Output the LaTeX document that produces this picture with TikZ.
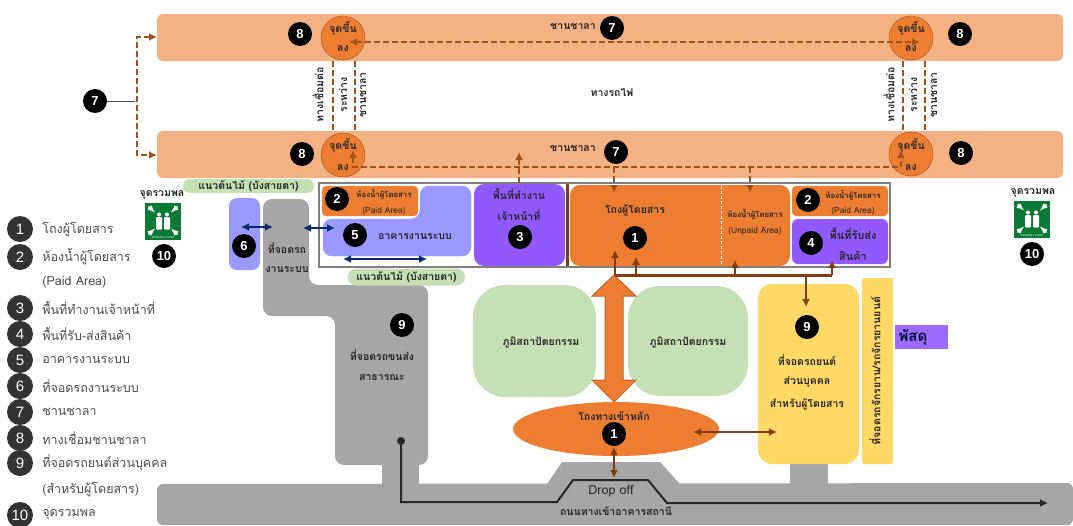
\documentclass[tikz,border=0pt]{standalone}
\usepackage{fontspec}
\usepackage[]{xcolor}
\usetikzlibrary{positioning,shapes.geometric,arrows.meta}
\setmainfont[Script=Thai]{Loma}
\newfontfamily\numfont{Liberation Sans}
\definecolor{platform}{HTML}{F4B183}
\definecolor{orangezone}{HTML}{ED7D31}
\definecolor{brownline}{HTML}{843C0C}
\definecolor{dashline}{HTML}{A0521A}
\definecolor{purplezone}{HTML}{9159FF}
\definecolor{bluezone}{HTML}{9999FF}
\definecolor{greyzone}{HTML}{A6A6A6}
\definecolor{greenzone}{HTML}{C5E0B4}
\definecolor{yellowzone}{HTML}{FFD966}
\definecolor{navyline}{HTML}{0B2A6B}
\definecolor{signgreen}{HTML}{0A7A36}
\definecolor{labelink}{HTML}{262626}
\tikzset{
    assemblysign/.pic={
        \fill[signgreen] (-18,-18.5) rectangle (18,18.5);
        \foreach \sx/\sy in {-1/-1,1/-1,-1/1,1/1}
            \draw[white, line width=1.6pt, -latex] (\sx*14.5,\sy*14-1) -- (\sx*8,\sy*8-1);
        \foreach \sx in {-4,4} {
            \fill[white] (\sx,-7) circle (2);
            \fill[white, rounded corners=1] (\sx-3,-4.5) rectangle (\sx+3,8);
        }
        \node[text=white, font=\numfont\fontsize{2.6}{3}\selectfont, inner sep=0pt] (signtext) at (0,16) {ASSEMBLY POINT};
    }
}
\begin{document}
\begin{tikzpicture}[
            x=1pt, y=-1pt,
            >={Latex[length=8pt,width=8pt]},
            zone/.style={rectangle, rounded corners=#1, inner sep=0pt, text=labelink},
            zone/.default=8pt,
            badge/.style={circle, fill=black, text=white, inner sep=0pt, minimum size=24pt, font=\numfont\bfseries\fontsize{13}{13}\selectfont},
            keybadge/.style={circle, fill=black!80, text=white, inner sep=0pt, minimum size=26pt, font=\numfont\fontsize{15}{15}\selectfont},
            stopcircle/.style={circle, draw=brownline!70!orangezone, fill=orangezone, inner sep=0pt, minimum size=44pt},
            label/.style={text=labelink, inner sep=0pt, align=center, font=\bfseries\fontsize{10.5}{12}\selectfont},
            smalllabel/.style={text=labelink, inner sep=0pt, font=\bfseries\fontsize{7.8}{9}\selectfont},
            paidlabel/.style={text=labelink, inner sep=0pt, font=\fontsize{8.5}{9}\selectfont},
            legendtext/.style={text=black!70, inner sep=0pt, font=\fontsize{12.5}{14}\selectfont},
            dasharrow/.style={dashline, line width=2.5pt, dash pattern=on 6pt off 3pt, ->},
            brownarrow/.style={brownline, line width=2.5pt, ->},
            navyarrow/.style={navyline, line width=2pt, <->}
        ]
            \useasboundingbox (0,0) rectangle (1073,525);

            % ground
            \fill[greyzone, rounded corners=6pt] (157,484) -- (157,525) -- (1073,525) -- (1073,483) -- cycle;
            \fill[greyzone] (547,484) -- (562,462) -- (660,462) -- (680,484) -- cycle;
            \fill[greyzone] (790,460) rectangle (828,484);
            \fill[greyzone] (382,460) rectangle (419,484);
            \fill[greyzone, rounded corners=9pt] (263,199) -- (309,199) -- (309,285) -- (428,285) -- (428,465) -- (335,465) -- (335,316) -- (263,316) -- cycle;

            % platforms
            \node[zone=6pt, fill=platform, minimum width=906pt, minimum height=47pt] (platformtop) at (610,37.5) {};
            \node[zone=6pt, fill=platform, minimum width=906pt, minimum height=47pt] (platformlow) at (610,154.5) {};
            \node[stopcircle] (stopTL) at (343,38) {};
            \node[stopcircle] (stopTR) at (911,38) {};
            \node[stopcircle] (stopBL) at (343,155) {};
            \node[stopcircle] (stopBR) at (911,154) {};

            \foreach \nm/\px in {TL/343,TR/911} {
                \node[label] (stopupper\nm) at (\px,28) {จุดขึ้น};
                \node[label] (stoplower\nm) at (\px,49) {ลง};
            }
            \foreach \nm/\px in {BL/343,BR/911} {
                \node[label] (stopupper\nm) at (\px,145) {จุดขึ้น};
                \node[label] (stoplower\nm) at (\px,168) {ลง};
            }
            \node[label] (platformtoptext) at (573,26) {ชานชาลา};
            \node[label] (platformlowtext) at (573,148) {ชานชาลา};
            \node[label] (railtext) at (612,92) {ทางรถไฟ};

            % concourse frame
            \node[rectangle, draw=black!50, line width=2.5pt, inner sep=0pt, minimum width=571pt, minimum height=84pt] (frame) at (604.5,225) {};
            \node[zone=4pt, fill=orangezone, minimum width=96pt, minimum height=30pt] (toiletL) at (370,201) {};
            \draw[bluezone, fill=bluezone, rounded corners=9pt] (323,219) -- (420,219) -- (420,186) -- (471,186) -- (471,256) -- (323,256) -- cycle;
            \node[zone=10pt, fill=purplezone, minimum width=91pt, minimum height=82pt] (staff) at (519.5,225) {};
            \node[zone=10pt, fill=orangezone, minimum width=220pt, minimum height=81pt] (hall) at (680,225.5) {};
            \node[zone=4pt, fill=orangezone, minimum width=96pt, minimum height=30pt] (toiletR) at (840,201) {};
            \node[zone=6pt, fill=purplezone, minimum width=96pt, minimum height=45pt] (goods) at (840,241.5) {};
            \coordinate (dividerA) at (567,184);
            \coordinate (dividerB) at (567,266);
            \draw[brownline, line width=3pt] (dividerA) -- (dividerB);
            \coordinate (unpaidA) at (721,186);
            \coordinate (unpaidB) at (721,265);
            \draw[white, densely dashed, line width=1pt] (unpaidA) -- (unpaidB);

            \node[zone=8pt, fill=bluezone, minimum width=31pt, minimum height=72pt] (sidepark) at (244.5,234) {};

            % green strips and blobs
            \node[zone=7pt, fill=greenzone, minimum width=131pt, minimum height=14pt, font=\bfseries\fontsize{10.5}{12}\selectfont] (treesA) at (248.5,186) {แนวต้นไม้ (บังสายตา)};
            \node[zone=8pt, fill=greenzone, minimum width=117pt, minimum height=17pt, font=\bfseries\fontsize{10.5}{12}\selectfont] (treesB) at (406.5,277) {แนวต้นไม้ (บังสายตา)};
            \node[zone=32pt, fill=greenzone, minimum width=123pt, minimum height=112pt] (gardenL) at (534.5,341) {};
            \node[zone=32pt, fill=greenzone, minimum width=120pt, minimum height=110pt] (gardenR) at (688,341) {};
            \node[label] (gardenLtext) at (541,342) {ภูมิสถาปัตยกรรม};
            \node[label] (gardenRtext) at (688,342) {ภูมิสถาปัตยกรรม};

            % entrance and parking
            \node[ellipse, fill=orangezone, inner sep=0pt, minimum width=206pt, minimum height=54pt] (entrance) at (616,429) {};
            \draw[orangezone!80!black, line width=1pt, fill=orangezone] (614,275) -- (636,296) -- (623,296) -- (623,380) -- (636,380) -- (614,402) -- (592,380) -- (605,380) -- (605,296) -- (592,296) -- cycle;
            \node[zone=14pt, fill=yellowzone, minimum width=101pt, minimum height=180pt] (carpark) at (808.5,374) {};
            \node[zone=2pt, fill=yellowzone, minimum width=31pt, minimum height=186pt] (bikepark) at (877.5,371) {};
            \node[rectangle, fill=purplezone!90!white, text=navyline!50!black, inner sep=0pt, minimum width=53pt, minimum height=24pt, font=\bfseries\fontsize{15}{15}\selectfont, text width=46pt, align=left] (parcel) at (921.5,337) {พัสดุ};

            % labels
            \node[label, rotate=90] (linkAa) at (318,95) {ทางเชื่อมต่อ};
            \node[label, rotate=90] (linkAb) at (343,95) {ระหว่าง};
            \node[label, rotate=90] (linkAc) at (363,95) {ชานชาลา};
            \node[label, rotate=90] (linkBa) at (889,95) {ทางเชื่อมต่อ};
            \node[label, rotate=90] (linkBb) at (913,95) {ระหว่าง};
            \node[label, rotate=90] (linkBc) at (934,95) {ชานชาลา};
            \node[smalllabel] (toiletLa) at (384,194) {ห้องน้ำผู้โดยสาร};
            \node[paidlabel] (toiletLb) at (384,211) {(Paid Area)};
            \node[smalllabel] (toiletRa) at (853,195) {ห้องน้ำผู้โดยสาร};
            \node[paidlabel] (toiletRb) at (853,211) {(Paid Area)};
            \node[smalllabel] (unpaida) at (755,214) {ห้องน้ำผู้โดยสาร};
            \node[paidlabel] (unpaidb) at (755,231) {(Unpaid Area)};
            \node[label] (systemtext) at (415,237) {อาคารงานระบบ};
            \node[label] (stafftexta) at (519,194) {พื้นที่ทำงาน};
            \node[label] (stafftextb) at (519,215) {เจ้าหน้าที่};
            \node[label] (halltext) at (635,210) {โถงผู้โดยสาร};
            \node[label, font=\bfseries\fontsize{11}{13}\selectfont] (goodstexta) at (853,234) {พื้นที่รับส่ง};
            \node[label, font=\bfseries\fontsize{11}{13}\selectfont] (goodstextb) at (853,256) {สินค้า};
            \node[label] (sideparka) at (287,248) {ที่จอดรถ};
            \node[label] (sideparkb) at (287,270) {งานระบบ};
            \node[label] (bustexta) at (382,355) {ที่จอดรถขนส่ง};
            \node[label] (bustextb) at (382,377) {สาธารณะ};
            \node[label] (entrancetext) at (614,416) {โถงทางเข้าหลัก};
            \node[label] (cartexta) at (807,360) {ที่จอดรถยนต์};
            \node[label] (cartextb) at (807,382) {ส่วนบุคคล};
            \node[label] (cartextc) at (807,404) {สำหรับผู้โดยสาร};
            \node[label, rotate=90] (biketext) at (875,371) {ที่จอดรถจักรยาน/รถจักรยานยนต์};
            \node[label, font=\fontsize{12.5}{13}\selectfont] (dropoff) at (611,491) {Drop off};
            \node[label] (roadtext) at (616,511) {ถนนทางเข้าอาคารสถานี};

            % dashed walkways
            \coordinate (walkTL) at (349,42);
            \coordinate (walkTR) at (920,42);
            \draw[dasharrow, <->] (walkTL) -- (walkTR);
            \coordinate (walkBL) at (353,150);
            \coordinate (walkBLb) at (353,167);
            \coordinate (walkBR) at (901,150);
            \coordinate (walkBRb) at (901,167);
            \draw[dasharrow, <->] (walkBL) -- (walkBLb) -- (walkBRb) -- (walkBR);
            \coordinate (brkT) at (157,37);
            \coordinate (brkTb) at (137,37);
            \coordinate (brkB) at (157,155);
            \coordinate (brkBb) at (137,155);
            \draw[dasharrow, <->] (brkT) -- (brkTb) -- (brkBb) -- (brkB);
            \foreach \px in {333,355,903,925} {
                \coordinate (linkup\px) at (\px,61);
                \coordinate (linkdown\px) at (\px,131);
                \draw[dashline, line width=2.5pt, dash pattern=on 6pt off 3pt] (linkup\px) -- (linkdown\px);
            }
            \coordinate (staffdoor) at (519,183);
            \coordinate (stafftip) at (519,152);
            \draw[dasharrow] (staffdoor) -- (stafftip);
            \foreach \px in {614,750} {
                \coordinate (halldown\px) at (\px,167);
                \coordinate (halltip\px) at (\px,193);
                \draw[dasharrow] (halldown\px) -- (halltip\px);
            }

            % solid connectors
            \coordinate (busA) at (615,275);
            \coordinate (busB) at (832,275);
            \draw[brownline, line width=3pt] (busA) -- (busB);
            \foreach \px/\py in {615/250,636/257,735/260,832/260} {
                \coordinate (busfoot\px) at (\px,275);
                \coordinate (bustip\px) at (\px,\py);
                \draw[brownarrow] (busfoot\px) -- (bustip\px);
            }
            \coordinate (busdrop) at (806,275);
            \coordinate (busdroptip) at (806,307);
            \draw[brownarrow] (busdrop) -- (busdroptip);
            \coordinate (entrancedown) at (614,447);
            \coordinate (entrancedrop) at (614,478);
            \draw[brownarrow, <->] (entrancedown) -- (entrancedrop);
            \coordinate (entranceright) at (693,432);
            \coordinate (carleft) at (777,432);
            \draw[brownarrow, <->] (entranceright) -- (carleft);
            \coordinate (navyAa) at (343,259);
            \coordinate (navyAb) at (427,259);
            \draw[navyarrow] (navyAa) -- (navyAb);
            \coordinate (navyBa) at (303,228);
            \coordinate (navyBb) at (335,228);
            \draw[navyarrow] (navyBa) -- (navyBb);
            \coordinate (navyCa) at (241,227);
            \coordinate (navyCb) at (273,227);
            \draw[navyarrow] (navyCa) -- (navyCb);
            \node[circle, fill=black!85, inner sep=0pt, minimum size=8pt] (routedot) at (401,441) {};
            \coordinate (routeA) at (401,502);
            \coordinate (routeB) at (557,502);
            \coordinate (routeC) at (573,480);
            \coordinate (routeD) at (648,480);
            \coordinate (routeE) at (667,503);
            \coordinate (routeF) at (1048,503);
            \draw[black!85, line width=2pt, ->] (routedot) -- (routeA) -- (routeB) -- (routeC) -- (routeD) -- (routeE) -- (routeF);
            \node[circle, inner sep=0pt, minimum size=24pt] (sevenhub) at (95,101) {};
            \coordinate (sevenline) at (135,101);
            \draw[black!70, line width=0.7pt] (sevenhub) -- (sevenline);

            % badges
            \foreach \nm/\px/\py/\lab in {8a/300/34/8,8b/302/154/8,8c/960/34/8,8d/961/153/8,7a/612/28/7,7b/616/152/7,7c/95/101/7,
                    2a/337/199/2,5a/355/235/5,3a/520/237/3,1a/635/238/1,2b/808/200/2,4a/811/243/4,6a/244/246/6,
                    9a/402/325/9,1b/614/434/1,9b/807/327/9,10a/164/256/10,10b/1032/254/10}
                \node[badge] (badge\nm) at (\px,\py) {\lab};

            % assembly points
            \node[label] (gatherL) at (162,195) {จุดรวมพล};
            \node[label] (gatherR) at (1033,193) {จุดรวมพล};
            \pic at (163,221.5) {assemblysign};
            \pic at (1032,219.5) {assemblysign};

            % legend
            \foreach \nm/\py/\lab in {1/229/โถงผู้โดยสาร,2/257/ห้องน้ำผู้โดยสาร,3/308/พื้นที่ทำงานเจ้าหน้าที่,4/334/พื้นที่รับ-ส่งสินค้า,5/360/อาคารงานระบบ,6/386/ที่จอดรถงานระบบ,7/412/ชานชาลา,8/438/ทางเชื่อมชานชาลา,9/463/ที่จอดรถยนต์ส่วนบุคคล,10/515/จุดรวมพล} {
                \node[keybadge] (key\nm) at (20,\py) {\nm};
                \node[legendtext, right=9pt of key\nm] (keytext\nm) {\lab};
            }
            \node[legendtext, below=11pt of keytext2.south west, anchor=north west] (keypaid) {(Paid Area)};
            \node[legendtext, below=11pt of keytext9.south west, anchor=north west] (keyprivate) {(สำหรับผู้โดยสาร)};
        \end{tikzpicture}
\end{document}
